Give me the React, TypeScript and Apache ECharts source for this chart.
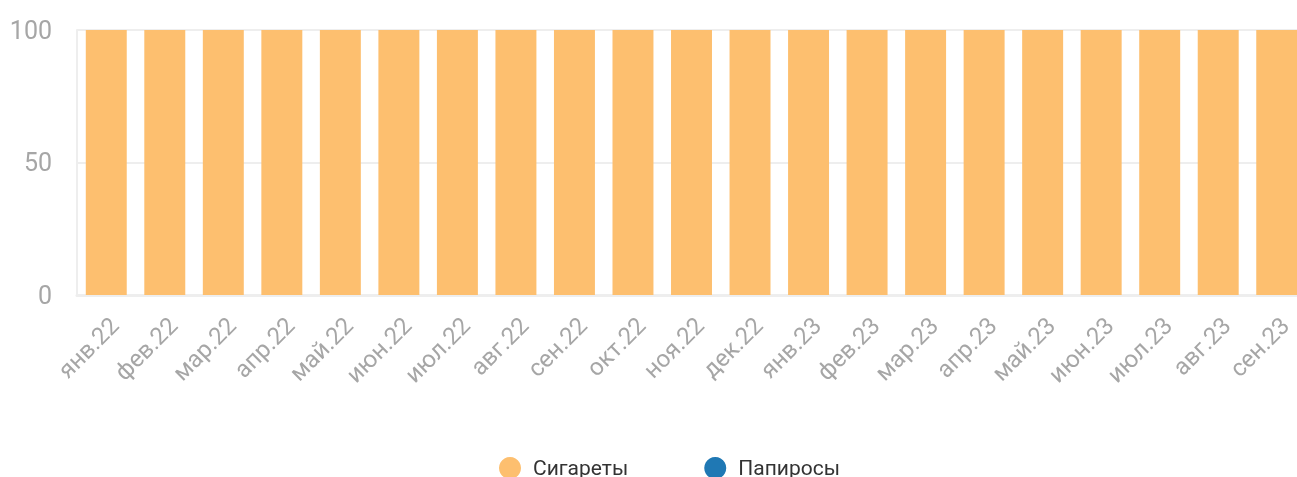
import React, { useEffect, useRef } from "react";
import * as echarts from "echarts";

const categories = [
  "янв.22", "фев.22", "мар.22", "апр.22", "май.22", "июн.22", "июл.22",
  "авг.22", "сен.22", "окт.22", "ноя.22", "дек.22", "янв.23", "фев.23",
  "мар.23", "апр.23", "май.23", "июн.23", "июл.23", "авг.23", "сен.23",
];
const cigarettes = [100, 100, 100, 100, 100, 100, 100, 100, 100, 100, 100, 100, 100, 100, 100, 100, 100, 100, 100, 100, 100];
const papirosy = [0, 0, 0, 0, 0, 0, 0, 0, 0, 0, 0, 0, 0, 0, 0, 0, 0, 0, 0, 0, 0];

export default function App() {
  const ref = useRef<HTMLDivElement>(null);
  useEffect(() => {
    if (!ref.current) return;
    const chart = echarts.init(ref.current, undefined, { renderer: "svg" });
    chart.setOption({
      animation: false,
      textStyle: { fontFamily: "Roboto" },
      grid: { left: 77, right: 28, top: 30, bottom: 182, containLabel: false },
      legend: {
        top: 452,
        left: 494,
        icon: "circle",
        itemWidth: 36,
        itemHeight: 22,
        itemGap: 76,
        textStyle: { fontSize: 21, color: "#333", fontFamily: "Roboto" },
        data: ["Сигареты", "Папиросы"],
      },
      xAxis: {
        type: "category",
        data: categories,
        axisLine: { show: true, lineStyle: { color: "#eeeeee", width: 3 } },
        axisTick: { show: false },
        axisLabel: {
          rotate: 45,
          fontSize: 24,
          color: "#a6a6a6",
          margin: 18,
          interval: 0,
          verticalAlign: "top",
        },
      },
      yAxis: {
        type: "value",
        min: 0,
        max: 100,
        interval: 50,
        axisLine: { show: true, lineStyle: { color: "#eeeeee", width: 2 } },
        axisTick: { show: false },
        splitLine: { show: true, lineStyle: { color: "#eeeeee", width: 2 } },
        axisLabel: { fontSize: 25, color: "#a6a6a6", margin: 25 },
      },
      series: [
        {
          name: "Сигареты",
          type: "bar",
          stack: "total",
          data: cigarettes,
          barCategoryGap: "30%",
          itemStyle: { color: "#FDBF6F" },
        },
        {
          name: "Папиросы",
          type: "bar",
          stack: "total",
          data: papirosy,
          itemStyle: { color: "#1F78B4" },
        },
      ],
    });
    return () => chart.dispose();
  }, []);
  return (
    <div style={{ position: "fixed", left: 0, top: 0, width: 1297, height: 477, overflow: "hidden" }}>
      <div ref={ref} style={{ width: 1334, height: 477 }} />
    </div>
  );
}
